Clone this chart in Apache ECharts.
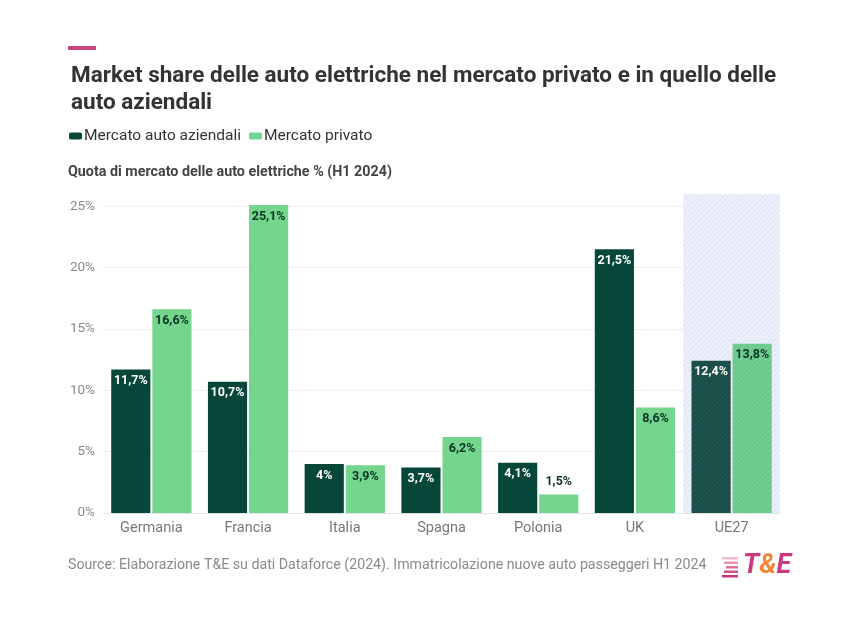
<!DOCTYPE html>
<html>
<head>
<meta charset="utf-8">
<script src="https://cdn.jsdelivr.net/npm/echarts@6/dist/echarts.min.js"></script>
<style>
html,body{margin:0;padding:0;background:#fff;}
#c{width:861px;height:628px;}
</style>
</head>
<body>
<div id="c"></div>
<script>
const categories = ['Germania','Francia','Italia','Spagna','Polonia','UK','UE27'];
const aziendali = [11.7, 10.7, 4, 3.7, 4.1, 21.5, 12.4];
const privato = [16.6, 25.1, 3.9, 6.2, 1.5, 8.6, 13.8];
const yTicks = [0, 5, 10, 15, 20, 25];

const DARK = '#07473a';
const LIGHT = '#74d58c';

function hatch(base, line, size) {
  const c = document.createElement('canvas');
  c.width = size; c.height = size;
  const ctx = c.getContext('2d');
  ctx.fillStyle = base; ctx.fillRect(0, 0, size, size);
  ctx.strokeStyle = line; ctx.lineWidth = 1;
  ctx.beginPath();
  ctx.moveTo(0, size); ctx.lineTo(size, 0);
  ctx.moveTo(-size/2, size/2); ctx.lineTo(size/2, -size/2);
  ctx.moveTo(size/2, size*1.5); ctx.lineTo(size*1.5, size/2);
  ctx.stroke();
  return { image: c, repeat: 'repeat' };
}

const fmt = v => String(v).replace('.', ',') + '%';

const chart = echarts.init(document.getElementById('c'));
const last = categories.length - 1;

const darkData = aziendali.map((v, i) => i === last
  ? { value: v, itemStyle: { color: hatch('#1a4d47', '#235a53', 5) } }
  : v);
const lightData = privato.map((v, i) => {
  if (i === last) return { value: v, itemStyle: { color: hatch('#6cc98c', '#78d398', 5) } };
  if (v < 3) return { value: v, label: { position: 'top', distance: 6 } };
  return v;
});

chart.setOption({
  backgroundColor: '#fff',
  animation: false,
  textStyle: { fontFamily: 'Roboto' },
  title: {
    text: 'Market share delle auto elettriche nel mercato privato e in quello delle\nauto aziendali',
    left: 66, top: 58,
    textStyle: { fontSize: 22.5, fontWeight: 'bold', color: '#333', lineHeight: 27, fontFamily: 'Roboto' }
  },
  legend: {
    left: 64, top: 123,
    itemWidth: 13, itemHeight: 7, itemGap: 8,
    icon: 'roundRect',
    textStyle: { fontSize: 15.5, color: '#333', padding: [0, 0, 0, -3] },
    data: ['Mercato auto aziendali', 'Mercato privato']
  },
  grid: { left: 103, right: 81, top: 194, bottom: 115, containLabel: false },
  xAxis: {
    type: 'category',
    data: categories,
    axisTick: { show: false },
    axisLine: { lineStyle: { color: '#e4e4e4' } },
    axisLabel: { color: '#777', fontSize: 14.5, margin: 8 }
  },
  yAxis: {
    type: 'value',
    min: 0, max: 26, interval: 5,
    axisLabel: { color: '#8a8a8a', fontSize: 13.5, margin: 8, showMaxLabel: false,
      formatter: v => yTicks.includes(v) ? v + '%' : '' },
    splitLine: { lineStyle: { color: ['#eeeeee','#eeeeee','#eeeeee','#eeeeee','#eeeeee','#eeeeee','rgba(0,0,0,0)'] } }
  },
  series: [
    {
      name: 'Mercato auto aziendali', type: 'bar', data: darkData,
      itemStyle: { color: DARK },
      barGap: '5%', barCategoryGap: '17%',
      label: { show: true, position: 'insideTop', distance: 5, color: '#fff', fontWeight: 'bold', fontSize: 12.5, formatter: p => fmt(p.value) },
      markArea: {
        silent: true,
        itemStyle: { color: hatch('#eaeff9', '#d9e1f2', 5) },
        data: [[{ xAxis: 'UE27', yAxis: 0 }, { xAxis: 'UE27', yAxis: 26 }]]
      }
    },
    {
      name: 'Mercato privato', type: 'bar', data: lightData,
      itemStyle: { color: LIGHT },
      label: { show: true, position: 'insideTop', distance: 5, color: '#0c3328', fontWeight: 'bold', fontSize: 12.5, formatter: p => fmt(p.value) }
    }
  ],
  graphic: [
    { type: 'rect', left: 68, top: 46, shape: { width: 28, height: 4 }, style: { fill: '#c8467f' } },
    { type: 'text', left: 68, top: 165, style: { text: 'Quota di mercato delle auto elettriche % (H1 2024)', fontSize: 14.3, fontWeight: 'bold', fill: '#444', fontFamily: 'Roboto' } },
    { type: 'text', left: 68, top: 558, style: { text: 'Source: Elaborazione T&E su dati Dataforce (2024). Immatricolazione nuove auto passeggeri H1 2024', fontSize: 14.2, fill: '#8a8a8a', fontFamily: 'Roboto' } },
    { type: 'rect', left: 722, top: 557, shape: { width: 16, height: 2.5 }, style: { fill: '#f4b8cf' } },
    { type: 'rect', left: 724, top: 561.5, shape: { width: 14, height: 2.5 }, style: { fill: '#ec93b5' } },
    { type: 'rect', left: 726, top: 566, shape: { width: 12, height: 2.5 }, style: { fill: '#e06c9c' } },
    { type: 'rect', left: 724, top: 570.5, shape: { width: 14, height: 2.5 }, style: { fill: '#d44f8b' } },
    { type: 'rect', left: 722, top: 575, shape: { width: 16, height: 2.5 }, style: { fill: '#c9357c' } },
    { type: 'text', left: 743, top: 553, style: {
      rich: {
        t: { fontSize: 27, fontWeight: 'bold', fontStyle: 'italic', fill: '#c93a80', fontFamily: 'Roboto' },
        a: { fontSize: 27, fontWeight: 'bold', fontStyle: 'italic', fill: '#f0883a', fontFamily: 'Roboto' }
      },
      text: '{t|T}{a|&}{t|E}'
    } }
  ]
});
</script>
</body>
</html>
